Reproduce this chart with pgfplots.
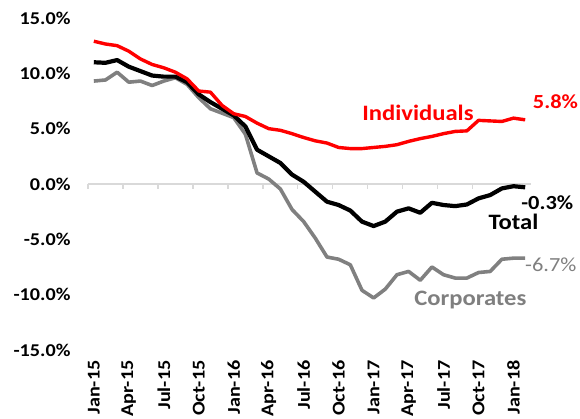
\documentclass[border=0pt]{standalone}
\usepackage{fontspec}
\setmainfont{Carlito}[FakeStretch=1.12]
\usepackage{pgfplots}
\usepackage{pgfplotstable}
\pgfplotsset{compat=1.18}
\definecolor{redline}{RGB}{255,0,0}
\definecolor{grayline}{RGB}{128,128,128}
\definecolor{axgray}{RGB}{217,217,217}
\definecolor{corptext}{RGB}{127,127,127}

\pgfplotstableread{
x ind tot corp
0 12.9 11.0 9.3
1 12.65 10.95 9.4
2 12.5 11.2 10.1
3 12.0 10.6 9.2
4 11.3 10.2 9.3
5 10.8 9.8 8.9
6 10.5 9.7 9.3
7 10.1 9.7 9.6
8 9.5 9.2 9.0
9 8.4 8.1 7.8
10 8.3 7.4 6.8
11 7.1 6.8 6.4
12 6.35 6.2 6.0
13 6.1 5.2 4.5
14 5.5 3.1 1.0
15 5.0 2.5 0.45
16 4.85 1.9 -0.45
17 4.55 0.85 -2.3
18 4.2 0.2 -3.4
19 3.9 -0.7 -4.9
20 3.7 -1.6 -6.6
21 3.3 -1.9 -6.8
22 3.2 -2.4 -7.3
23 3.2 -3.4 -9.6
24 3.3 -3.8 -10.3
25 3.4 -3.4 -9.5
26 3.55 -2.5 -8.2
27 3.85 -2.2 -7.9
28 4.1 -2.6 -8.7
29 4.3 -1.7 -7.5
30 4.55 -1.9 -8.2
31 4.75 -2.0 -8.5
32 4.8 -1.85 -8.5
33 5.75 -1.3 -8.0
34 5.7 -1.0 -7.9
35 5.65 -0.4 -6.8
36 5.95 -0.2 -6.7
37 5.8 -0.3 -6.7
}\datatable

\begin{document}
\begin{tikzpicture}
\begin{axis}[name=ax, scale only axis, width=443pt, height=332pt,
  xmin=-0.5, xmax=37.5, ymin=-15, ymax=15,
  axis line style={draw=none}, major tick length=0pt,
  ytick={-15,-10,-5,0,5,10,15},
  yticklabels={{-15.0\%},{-10.0\%},{-5.0\%},{0.0\%},{5.0\%},{10.0\%},{15.0\%}},
  xtick={0,3,...,36},
  xticklabels={Jan-15,Apr-15,Jul-15,Oct-15,Jan-16,Apr-16,Jul-16,Oct-16,Jan-17,Apr-17,Jul-17,Oct-17,Jan-18},
  ticklabel style={font=\fontsize{18}{20}\selectfont\bfseries},
  yticklabel shift=14pt,
  xticklabel shift=7pt,
  xticklabel style={rotate=90, anchor=east},
  clip=false,
]
\addplot[draw=axgray, line width=1.3pt, forget plot] coordinates {(-0.5,0) (37.5,0)};
\addplot[ycomb, draw=axgray, line width=1.3pt, mark=none, forget plot] coordinates {(-0.5,-0.45) (2.5,-0.45) (5.5,-0.45) (8.5,-0.45) (11.5,-0.45) (14.5,-0.45) (17.5,-0.45) (20.5,-0.45) (23.5,-0.45) (26.5,-0.45) (29.5,-0.45) (32.5,-0.45) (35.5,-0.45)};
\addplot[draw=grayline, line width=3.6pt, line join=round, mark=none] table[x=x, y=corp] {\datatable};
\addplot[draw=black, line width=4.2pt, line join=round, mark=none] table[x=x, y=tot] {\datatable};
\addplot[draw=redline, line width=3.4pt, line join=round, mark=none] table[x=x, y=ind] {\datatable};
\node[text=redline, font=\fontsize{22}{24}\selectfont\bfseries] at (axis cs:27.8,6.4) {Individuals};
\node[text=redline, font=\fontsize{20}{22}\selectfont\bfseries] at (axis cs:39.6,7.4) {5.8\%};
\node[text=black, font=\fontsize{20}{22}\selectfont\bfseries] at (axis cs:38.9,-1.7) {-0.3\%};
\node[text=black, font=\fontsize{22}{24}\selectfont\bfseries] at (axis cs:36.0,-3.4) {Total};
\node[text=corptext, font=\fontsize{20}{22}\selectfont] at (axis cs:39.2,-7.3) {-6.7\%};
\node[text=corptext, font=\fontsize{22}{24}\selectfont\bfseries] at (axis cs:32.3,-10.5) {Corporates};
\end{axis}
\pgfresetboundingbox
\path (ax.south west) ++(-88pt,350pt) rectangle ++(580pt,-419pt);
\end{tikzpicture}
\end{document}
